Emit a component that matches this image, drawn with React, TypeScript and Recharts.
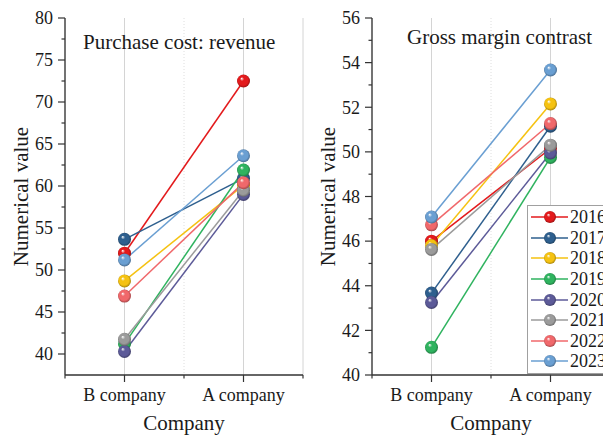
import React from "react";
import { LineChart, Line, XAxis, YAxis, CartesianGrid, Legend } from "recharts";

const companies = ["B company", "A company"];
const years = ["2016", "2017", "2018", "2019", "2020", "2021", "2022", "2023"];
const colors = ["#e31a1c", "#2e5f8e", "#f5c211", "#2fb35f", "#5c5a98", "#9b9b9b", "#f0686b", "#6a9fd2"];

// purchase cost : revenue, one value per year (2016..2023)
const purchaseB = [52.0, 53.65, 48.7, 41.2, 40.3, 41.75, 46.9, 51.2];
const purchaseA = [72.5, 60.9, 60.1, 61.9, 59.0, 59.5, 60.4, 63.6];
// gross margin
const marginB = [46.0, 43.67, 45.8, 41.24, 43.25, 45.63, 46.73, 47.08];
const marginA = [50.15, 51.15, 52.15, 49.75, 49.95, 50.3, 51.27, 53.67];

const purchaseTicks = [40, 42.5, 45, 47.5, 50, 52.5, 55, 57.5, 60, 62.5, 65, 67.5, 70, 72.5, 75, 77.5, 80];
const marginTicks = [40, 41, 42, 43, 44, 45, 46, 47, 48, 49, 50, 51, 52, 53, 54, 55, 56];

const FONT = '"Liberation Serif", "Times New Roman", serif';
const AXIS = "#333";
const TXT = "#1a1a1a";
const W = 310;
const H = 439;
const Y_W = 65;
const M_RIGHT = 7;
const PLOT_W = W - Y_W - M_RIGHT;
// half a category band, so points sit in the middle of each band
const HALF_BAND = PLOT_W / companies.length / 2;
const TICK = 7;
const GAP = 5;

const buildRows = (b: number[], a: number[]) =>
  companies.map((c, i) => {
    const row: any = { company: c };
    years.forEach((y, k) => {
      row[y] = (i === 0 ? b : a)[k];
    });
    return row;
  });

const shade = (hex: string, f: number) => {
  const n = parseInt(hex.slice(1), 16);
  const r = Math.round(((n >> 16) & 255) * f);
  const g = Math.round(((n >> 8) & 255) * f);
  const b = Math.round((n & 255) * f);
  return `rgb(${r},${g},${b})`;
};

// shiny ball marker
const Ball = ({ cx, cy, color, r = 6.5 }: any) => {
  const id = "ball" + color.slice(1);
  return (
    <g>
      <defs>
        <radialGradient id={id} cx="50%" cy="50%" r="55%" fx="35%" fy="30%">
          <stop offset="0%" stopColor="#ffffff" stopOpacity={0.95} />
          <stop offset="28%" stopColor={color} />
          <stop offset="70%" stopColor={color} />
          <stop offset="100%" stopColor={shade(color, 0.6)} />
        </radialGradient>
      </defs>
      <circle cx={cx} cy={cy} r={r} fill={`url(#${id})`} />
    </g>
  );
};

const YTick = (p: any) => {
  const { x, y, payload, majorEvery } = p;
  const v = payload.value;
  const q = v / majorEvery;
  const major = Math.abs(q - Math.round(q)) < 1e-6;
  const axisX = x + TICK + GAP;
  return (
    <g>
      <line x1={axisX} x2={axisX - (major ? TICK : 3.5)} y1={y} y2={y} stroke={AXIS} strokeWidth={1.2} />
      {major && (
        <text x={x} y={y} dy="0.35em" textAnchor="end" fontSize={18} fontFamily={FONT} fill={TXT}>
          {v}
        </text>
      )}
    </g>
  );
};

const XTick = (p: any) => {
  const { x, y, payload, index } = p;
  const axisY = y - TICK - GAP;
  const minor = index === 0 ? [x - HALF_BAND, x + HALF_BAND] : [x + HALF_BAND];
  return (
    <g>
      <line x1={x} x2={x} y1={axisY} y2={axisY + TICK} stroke={AXIS} strokeWidth={1.2} />
      {minor.map((mx, k) => (
        <line key={k} x1={mx} x2={mx} y1={axisY} y2={axisY + 3.5} stroke={AXIS} strokeWidth={1.2} />
      ))}
      <text x={x} y={y} dy="0.75em" textAnchor="middle" fontSize={18} fontFamily={FONT} fill={TXT}>
        {payload.value}
      </text>
    </g>
  );
};

const LegendBox = ({ payload }: any) => (
  <div
    style={{
      border: "1px solid #a0a0a0",
      background: "#fff",
      padding: "1px 0 1px 3px",
      fontFamily: FONT,
      fontSize: 18,
      color: TXT,
    }}
  >
    {(payload || []).map((e: any) => (
      <div key={e.value} style={{ display: "flex", alignItems: "center", height: 20.6 }}>
        <svg width={38} height={20} style={{ display: "block" }}>
          <line x1={0} x2={37} y1={10} y2={10} stroke={e.color} strokeWidth={1.5} />
          <Ball cx={19} cy={10} color={e.color} r={6} />
        </svg>
        <span style={{ marginLeft: 1, lineHeight: "20px", whiteSpace: "nowrap" }}>{e.value}</span>
      </div>
    ))}
  </div>
);

type PanelProps = {
  data: any[];
  domain: [number, number];
  ticks: number[];
  majorEvery: number;
  title: string;
  titleX: number;
  titleTop: number;
  withLegend?: boolean;
};

const Panel = ({ data, domain, ticks, majorEvery, title, titleX, titleTop, withLegend }: PanelProps) => (
  <div style={{ position: "relative", width: W, height: H }}>
    <LineChart width={W} height={H} data={data} margin={{ top: 18, right: M_RIGHT, bottom: 0, left: 0 }}>
      <CartesianGrid horizontal={false} stroke="#d4d4d4" />
      <CartesianGrid
        horizontal={false}
        stroke="#dedede"
        strokeDasharray="1 2"
        verticalCoordinatesGenerator={({ offset }: any) => [offset.left + offset.width / 2]}
      />
      <XAxis
        dataKey="company"
        height={64}
        interval={0}
        padding={{ left: HALF_BAND, right: HALF_BAND }}
        tickSize={TICK}
        tickMargin={GAP}
        tickLine={false}
        tick={XTick}
        stroke={AXIS}
        strokeWidth={1.3}
        label={(lp: any) => {
          const vb = lp.viewBox || { x: Y_W, y: 375, width: PLOT_W };
          return (
            <text x={vb.x + vb.width / 2} y={vb.y + 55} textAnchor="middle" fontSize={21} fontFamily={FONT} fill={TXT}>
              Company
            </text>
          );
        }}
      />
      <XAxis xAxisId="top" orientation="top" dataKey="company" height={0} tick={false} tickLine={false} stroke={AXIS} strokeWidth={1.3} />
      <YAxis
        type="number"
        width={Y_W}
        domain={domain}
        ticks={ticks}
        interval={0}
        tickSize={TICK}
        tickMargin={GAP}
        tickLine={false}
        tick={(p: any) => <YTick {...p} majorEvery={majorEvery} />}
        stroke={AXIS}
        strokeWidth={1.3}
        label={(lp: any) => {
          const vb = lp.viewBox || { x: 0, y: 18, height: 357 };
          const cx = vb.x + 21;
          const cy = vb.y + vb.height / 2;
          return (
            <text
              x={cx}
              y={cy}
              transform={`rotate(-90 ${cx} ${cy})`}
              textAnchor="middle"
              dominantBaseline="central"
              fontSize={21}
              fontFamily={FONT}
              fill={TXT}
            >
              Numerical value
            </text>
          );
        }}
      />
      <YAxis yAxisId="right" orientation="right" type="number" width={0} domain={domain} tick={false} tickLine={false} stroke={AXIS} strokeWidth={1.3} />
      {years.map((y, i) => (
        <Line
          key={y}
          type="linear"
          dataKey={y}
          name={y}
          stroke={colors[i]}
          strokeWidth={1.5}
          isAnimationActive={false}
          activeDot={false}
          dot={(p: any) => <Ball key={`${y}-${p.index}`} cx={p.cx} cy={p.cy} color={colors[i]} />}
        />
      ))}
      {withLegend && (
        <Legend
          layout="vertical"
          align="center"
          verticalAlign="middle"
          content={LegendBox}
          wrapperStyle={{ left: 220, top: 205, width: 92 }}
        />
      )}
    </LineChart>
    <div
      style={{
        position: "absolute",
        left: titleX,
        top: titleTop,
        fontSize: 21,
        lineHeight: "21px",
        whiteSpace: "nowrap",
        fontFamily: FONT,
        color: TXT,
      }}
    >
      {title}
    </div>
  </div>
);

export default function App() {
  const purchaseRows = buildRows(purchaseB, purchaseA);
  const marginRows = buildRows(marginB, marginA);
  return (
    <div
      style={{
        position: "absolute",
        left: 0,
        top: 0,
        width: 603,
        height: 439,
        overflow: "hidden",
        background: "#fff",
        fontFamily: FONT,
      }}
    >
      <div style={{ position: "absolute", left: 0, top: 0 }}>
        <Panel
          data={purchaseRows}
          domain={[37.5, 80]}
          ticks={purchaseTicks}
          majorEvery={5}
          title="Purchase cost: revenue"
          titleX={83}
          titleTop={32}
        />
      </div>
      <div style={{ position: "absolute", left: 307, top: 0 }}>
        <Panel
          data={marginRows}
          domain={[40, 56]}
          ticks={marginTicks}
          majorEvery={2}
          title="Gross margin contrast"
          titleX={100}
          titleTop={27}
          withLegend
        />
      </div>
    </div>
  );
}
